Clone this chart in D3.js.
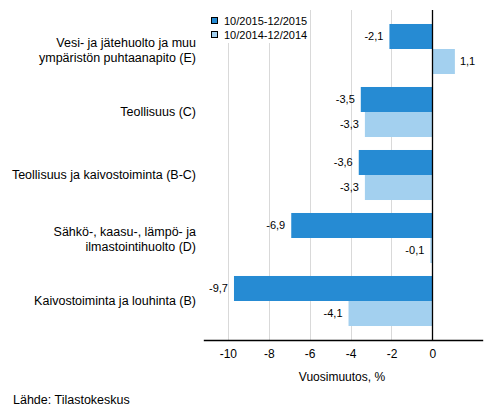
<!DOCTYPE html>
<html lang="fi">
<head>
<meta charset="UTF-8">
<title>Vuosimuutos</title>
<script src="https://d3js.org/d3.v7.min.js"></script>
<style>
    body { margin: 0; background: #fff; }
    svg { display: block; font-family: "Liberation Sans", Arial, sans-serif; }
    .grid line { stroke: #d9d9d9; stroke-width: 1px; }
    .cat { font-size: 12.5px; fill: #000; }
    .val { font-size: 11px; fill: #000; }
    .tick text { font-size: 12px; fill: #000; }
</style>
</head>
<body>
<svg width="493" height="416"></svg>
<script>
    // data
    const categories = [
        ["Vesi- ja jätehuolto ja muu", "ympäristön puhtaanapito (E)"],
        ["Teollisuus (C)"],
        ["Teollisuus ja kaivostoiminta (B-C)"],
        ["Sähkö-, kaasu-, lämpö- ja", "ilmastointihuolto (D)"],
        ["Kaivostoiminta ja louhinta (B)"]
    ];
    const seriesNames = ["10/2015-12/2015", "10/2014-12/2014"];
    const values2015 = [-2.1, -3.5, -3.6, -6.9, -9.7];
    const values2014 = [1.1, -3.3, -3.3, -0.1, -4.1];
    const tickValues = [-10, -8, -6, -4, -2, 0];
    const colors = ["#268bd3", "#a3d0ef"];

    const svg = d3.select("svg");
    const plotTop = 10, plotBottom = 340;

    const x = d3.scaleLinear().domain([-11.2, 2.46]).range([203.3, 482.7]);
    const y = d3.scaleBand()
        .domain(d3.range(categories.length))
        .range([17.5, 332.5])
        .paddingInner(0.206)
        .paddingOuter(0.103);
    const ySub = d3.scaleBand().domain([0, 1]).range([0, y.bandwidth()]);

    // gridlines
    svg.append("g").attr("class", "grid")
        .selectAll("line")
        .data(tickValues.filter(d => d !== 0))
        .enter().append("line")
        .attr("x1", d => Math.round(x(d)) + 0.5)
        .attr("x2", d => Math.round(x(d)) + 0.5)
        .attr("y1", plotTop)
        .attr("y2", plotBottom);

    // bars
    const rows = categories.map((c, i) => [values2015[i], values2014[i]]);
    const group = svg.append("g").selectAll("g")
        .data(rows)
        .enter().append("g")
        .attr("transform", (d, i) => `translate(0,${y(i)})`);

    group.selectAll("rect")
        .data(d => d)
        .enter().append("rect")
        .attr("x", d => x(Math.min(0, d)))
        .attr("width", d => Math.abs(x(d) - x(0)))
        .attr("y", (d, j) => ySub(j))
        .attr("height", ySub.bandwidth())
        .attr("fill", (d, j) => colors[j]);

    group.selectAll("text")
        .data(d => d)
        .enter().append("text")
        .attr("class", "val")
        .attr("x", d => d < 0 ? x(d) - 6 : x(d) + 5)
        .attr("y", (d, j) => ySub(j) + ySub.bandwidth() / 2)
        .attr("dy", "0.35em")
        .attr("text-anchor", d => d < 0 ? "end" : "start")
        .text(d => d3.format(".1f")(d).replace(".", ",").replace("−", "-"));

    // category labels
    svg.append("g").selectAll("text")
        .data(categories)
        .enter().append("text")
        .attr("class", "cat")
        .attr("text-anchor", "end")
        .attr("x", 196)
        .attr("y", (d, i) => y(i) + y.bandwidth() / 2 - (d.length - 1) * 6)
        .each(function (d) {
            d3.select(this).selectAll("tspan")
                .data(d)
                .enter().append("tspan")
                .attr("x", 196)
                .attr("dy", (t, k) => k === 0 ? "0.35em" : "15px")
                .text(t => t);
        });

    // zero line
    svg.append("line")
        .attr("x1", Math.round(x(0)) + 0.5).attr("x2", Math.round(x(0)) + 0.5)
        .attr("y1", plotTop).attr("y2", plotBottom)
        .attr("stroke", "#000").attr("stroke-width", 1.3);

    // x axis
    const xAxis = svg.append("g")
        .attr("transform", `translate(0,${plotBottom})`)
        .call(d3.axisBottom(x).tickValues(tickValues).tickSize(0).tickPadding(9)
            .tickFormat(d => String(d)));
    xAxis.select(".domain").attr("stroke", "#000").attr("stroke-width", 1.3);

    svg.append("text")
        .attr("x", 342).attr("y", 381)
        .attr("text-anchor", "middle")
        .style("font-size", "12px")
        .text("Vuosimuutos, %");

    // legend
    const legend = svg.append("g");
    legend.append("rect")
        .attr("x", 206).attr("y", 10).attr("width", 104).attr("height", 33)
        .attr("fill", "#fff");
    seriesNames.forEach((name, i) => {
        legend.append("rect")
            .attr("x", 211.5).attr("y", 17.5 + i * 14)
            .attr("width", 6).attr("height", 6)
            .attr("fill", colors[i]).attr("stroke", "#000").attr("stroke-width", 1);
        legend.append("text")
            .attr("x", 224).attr("y", 21 + i * 14)
            .attr("dy", "0.35em")
            .style("font-size", "11px")
            .text(name);
    });

    svg.append("text")
        .attr("x", 13).attr("y", 404)
        .style("font-size", "12.5px")
        .text("Lähde: Tilastokeskus");
</script>
</body>
</html>
